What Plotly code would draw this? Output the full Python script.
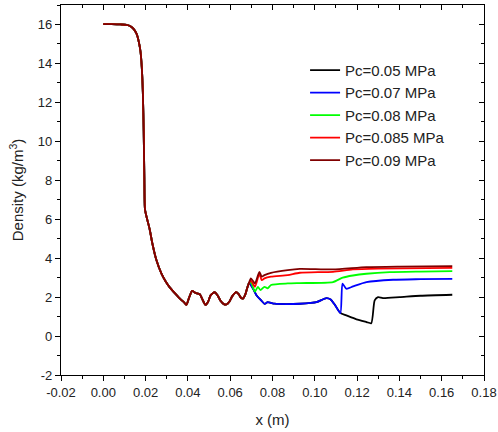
import plotly.graph_objects as go

# Shared part of all curves (before divergence)
common_x = [0, 0.004, 0.008, 0.011, 0.013, 0.0145, 0.0158, 0.0168, 0.0176, 0.0182, 0.0187, 0.0191,
            0.0194, 0.0197, 0.0205, 0.0219, 0.0232, 0.0251, 0.0275, 0.0295, 0.0314, 0.0338, 0.0361,
            0.038, 0.0393, 0.0405, 0.042, 0.0435, 0.0456, 0.047, 0.0483, 0.0495, 0.0508, 0.0527,
            0.054, 0.0555, 0.057, 0.0582, 0.0595, 0.061, 0.0628, 0.064, 0.0652, 0.066, 0.0672, 0.068, 0.0688]
common_y = [16.02, 16.02, 16.0, 15.98, 15.9, 15.75, 15.5, 15.1, 14.6, 13.8, 12.5, 10.5,
            8.2, 6.5, 6.1, 5.5, 4.75, 3.9, 3.2, 2.8, 2.5, 2.2, 1.93,
            1.75, 1.6, 1.95, 2.32, 2.22, 2.15, 1.85, 1.6, 1.75, 2.1, 2.25,
            2.1, 1.8, 1.64, 1.62, 1.75, 2.05, 2.26, 2.15, 1.95, 1.92, 2.15, 2.45, 2.7]

blue_x = [0.0698, 0.0712, 0.0724, 0.0745, 0.0763, 0.0777, 0.0793, 0.081, 0.0866, 0.0929, 0.1008, 0.1055,
          0.1075, 0.1095, 0.1121, 0.1131, 0.1149, 0.1181, 0.1244, 0.137, 0.15, 0.165]
blue_y = [2.62, 2.35, 2.1, 1.85, 1.65, 1.74, 1.7, 1.66, 1.64, 1.66, 1.74, 1.95,
          1.88, 1.6, 1.18, 2.69, 2.43, 2.55, 2.77, 2.89, 2.92, 2.94]

black_x = [0.0698, 0.0712, 0.0724, 0.0745, 0.0763, 0.0777, 0.0793, 0.081, 0.0866, 0.0929, 0.1008, 0.1055,
           0.1075, 0.1095, 0.1121, 0.1149, 0.1197, 0.1245, 0.1267, 0.1283, 0.1299, 0.1322, 0.1401, 0.15, 0.165]
black_y = [2.62, 2.35, 2.1, 1.85, 1.65, 1.74, 1.7, 1.66, 1.64, 1.66, 1.74, 1.95,
           1.88, 1.6, 1.18, 1.06, 0.86, 0.72, 0.66, 1.83, 2.0, 1.95, 2.0, 2.07, 2.12]

green_x = [0.0698, 0.0717, 0.0731, 0.0743, 0.0762, 0.0777, 0.0793, 0.0872, 0.0929, 0.1086, 0.1132,
           0.118, 0.1244, 0.1354, 0.15, 0.165]
green_y = [2.75, 2.28, 2.53, 2.36, 2.53, 2.45, 2.62, 2.7, 2.72, 2.77, 3.0,
           3.11, 3.2, 3.28, 3.31, 3.33]

red_x = [0.0698, 0.0717, 0.0738, 0.0749, 0.0762, 0.0793, 0.0872, 0.0929, 0.1086, 0.118, 0.13, 0.165]
red_y = [2.85, 2.53, 3.2, 2.87, 2.96, 3.05, 3.13, 3.25, 3.3, 3.42, 3.46, 3.5]

darkred_x = [0.0698, 0.0717, 0.0738, 0.0749, 0.0762, 0.0793, 0.0872, 0.0929, 0.1086, 0.1244, 0.14, 0.165]
darkred_y = [2.96, 2.7, 3.3, 3.05, 3.13, 3.25, 3.39, 3.45, 3.42, 3.54, 3.57, 3.59]

series_names = ["Pc=0.05 MPa", "Pc=0.07 MPa", "Pc=0.08 MPa", "Pc=0.085 MPa", "Pc=0.09 MPa"]
series_colors = ["#000000", "#0000FF", "#00FF00", "#FF0000", "#800000"]
tails = [(black_x, black_y), (blue_x, blue_y), (green_x, green_y), (red_x, red_y), (darkred_x, darkred_y)]

x_tick_vals = [-0.02, 0.0, 0.02, 0.04, 0.06, 0.08, 0.10, 0.12, 0.14, 0.16, 0.18]
x_tick_text = ["-0.02", "0.00", "0.02", "0.04", "0.06", "0.08", "0.10", "0.12", "0.14", "0.16", "0.18"]
y_tick_vals = [-2, 0, 2, 4, 6, 8, 10, 12, 14, 16]
y_tick_text = ["-2", "0", "2", "4", "6", "8", "10", "12", "14", "16"]

FONT = "Liberation Sans, Arial, sans-serif"

fig = go.Figure()
for name, color, (tx, ty) in zip(series_names, series_colors, tails):
    fig.add_trace(go.Scatter(
        x=common_x + tx, y=common_y + ty, mode="lines", name=name,
        line=dict(color=color, width=1.8, shape="spline", smoothing=0.6),
    ))

# invisible trace to activate mirrored axes with inward ticks
fig.add_trace(go.Scatter(x=[None], y=[None], xaxis="x2", yaxis="y2", showlegend=False, hoverinfo="skip"))

XR = [-0.02, 0.18]
YR = [-2, 17]
axis_common = dict(showgrid=False, zeroline=False, showline=True, linecolor="black", linewidth=1.2,
                   tickcolor="black", tickwidth=1.2, ticklen=5, automargin=False,
                   tickfont=dict(family=FONT, size=13, color="#222"))

fig.update_layout(
    width=498, height=432,
    margin=dict(l=61, r=14, t=5, b=57),
    paper_bgcolor="white", plot_bgcolor="white",
    font=dict(family=FONT, color="#222"),
    xaxis=dict(range=XR, tickvals=x_tick_vals, ticktext=x_tick_text, ticks="outside",
               minor=dict(ticks="outside", dtick=0.01, tick0=0, ticklen=3, tickcolor="black"),
               title=dict(text="x (m)", font=dict(family=FONT, size=15), standoff=15),
               **axis_common),
    yaxis=dict(range=YR, tickvals=y_tick_vals, ticktext=y_tick_text, ticks="outside",
               minor=dict(ticks="outside", dtick=1, tick0=0, ticklen=3, tickcolor="black"),
               title=dict(text="Density (kg/m<sup>3</sup>)", font=dict(family=FONT, size=15), standoff=10),
               **axis_common),
    xaxis2=dict(range=XR, overlaying="x", side="top", tickvals=x_tick_vals, showticklabels=False,
                ticks="inside", minor=dict(ticks="inside", dtick=0.01, tick0=0, ticklen=3, tickcolor="black"),
                **axis_common),
    yaxis2=dict(range=YR, overlaying="y", side="right", tickvals=y_tick_vals, showticklabels=False,
                ticks="inside", minor=dict(ticks="inside", dtick=1, tick0=0, ticklen=3, tickcolor="black"),
                **axis_common),
    legend=dict(x=0.577, y=0.868, xanchor="left", yanchor="top", bgcolor="rgba(0,0,0,0)",
                font=dict(family=FONT, size=15, color="#222"), tracegroupgap=0, itemwidth=30),
    showlegend=True,
)

fig.write_html("out.html", config={"displayModeBar": False},
               post_script="document.body.style.margin='0';")
